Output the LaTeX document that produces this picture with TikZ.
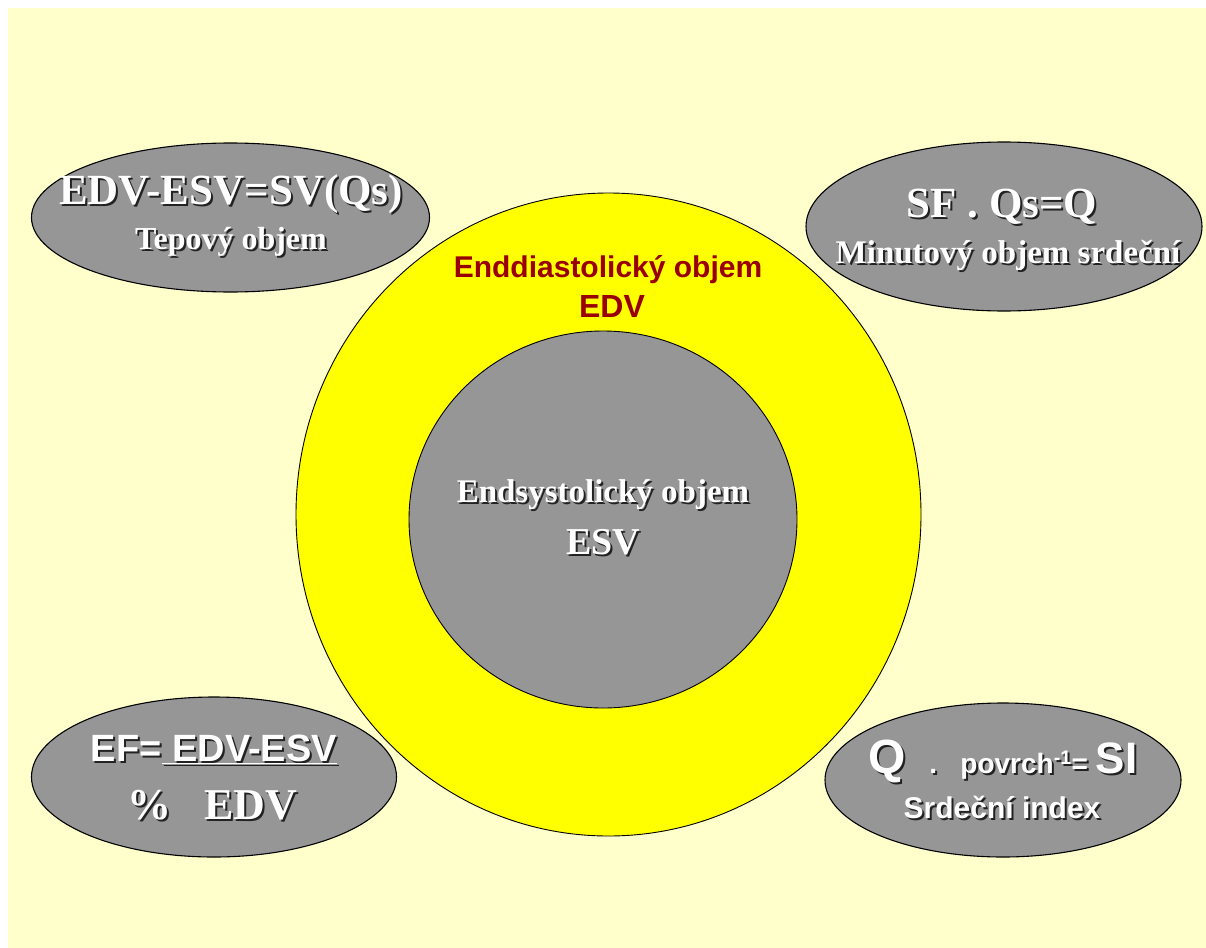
\documentclass[tikz,border=0pt]{standalone}
\usepackage{fontspec}
\setmainfont{Liberation Serif}
\newfontfamily\arialfont{Liberation Sans}
\definecolor{bgyellow}{HTML}{FFFFCC}
\definecolor{ringyellow}{HTML}{FFFF00}
\definecolor{blobgray}{HTML}{969696}
\definecolor{edvred}{HTML}{990000}
\definecolor{shadowc}{HTML}{222222}
\newcommand\shtxt[1]{\makebox[0pt][l]{\kern2pt\raisebox{-2pt}{\color{shadowc}#1}}#1}
\newcommand\fs[1]{\fontsize{#1}{#1}\selectfont}
\tikzset{
  blob/.style={draw=black, line width=1.1pt, fill=blobgray},
  wtxt/.style={text=white, inner sep=0pt, font=\bfseries},
  rtxt/.style={text=edvred, inner sep=0pt, font=\arialfont\bfseries},
}
\begin{document}
\begin{tikzpicture}[x=1pt,y=-1pt]
\useasboundingbox (0,0) rectangle (1206,947);
\fill[white] (0,0) rectangle (1206,947);
\fill[bgyellow] (8,8) rectangle (1207,948);
% central circles
\draw[draw=black, line width=0.9pt, fill=ringyellow] (608.5,514.5) ellipse [x radius=312.5, y radius=321.5];
\draw[draw=black, line width=0.9pt, fill=blobgray] (603,519.5) ellipse [x radius=194, y radius=188.5];
% corner ellipses
\draw[blob] (230.5,217.5) ellipse [x radius=199, y radius=74.5];
\draw[blob] (1004,226.5) ellipse [x radius=198, y radius=84.5];
\draw[blob] (214,777) ellipse [x radius=182.5, y radius=80];
\draw[blob] (1003,780) ellipse [x radius=178, y radius=77];
% texts
\node[wtxt] (tl1) at (231,195) {\fs{43}\shtxt{EDV-ESV=SV(Qs)}};
\node[wtxt] (tl2) at (231,243) {\fs{32}\shtxt{Tepový objem}};
\node[wtxt] (tr1) at (1002,208) {\fs{43}\shtxt{SF . Qs=Q}};
\node[wtxt] (tr2) at (1008,256) {\fs{33}\shtxt{Minutový objem srdeční}};
\node[rtxt] (c1) at (608,270) {\fs{30}Enddiastolický objem};
\node[rtxt] (c2) at (612,306) {\fs{32}EDV};
\node[wtxt] (g1) at (603,496) {\fs{33}\shtxt{Endsystolický objem}};
\node[wtxt] (g2) at (603,543) {\fs{38}\shtxt{ESV}};
\node[wtxt, font=\arialfont\bfseries] (bl1) at (214,750) {\fs{38}\shtxt{EF=\underline{ EDV-ESV}}};
\node[wtxt] (bl2) at (212,806) {\fs{44}\shtxt{\%\ \ \ EDV}};
\node[wtxt, font=\arialfont\bfseries] (br1) at (1003,762) {\shtxt{\fs{48}Q\fs{28}\ \ \ .\ \ \ povrch\textsuperscript{-1}=\ \fs{44}SI}};
\node[wtxt, font=\arialfont\bfseries] (br2) at (1002,808) {\fs{30}\shtxt{Srdeční index}};
\end{tikzpicture}
\end{document}
